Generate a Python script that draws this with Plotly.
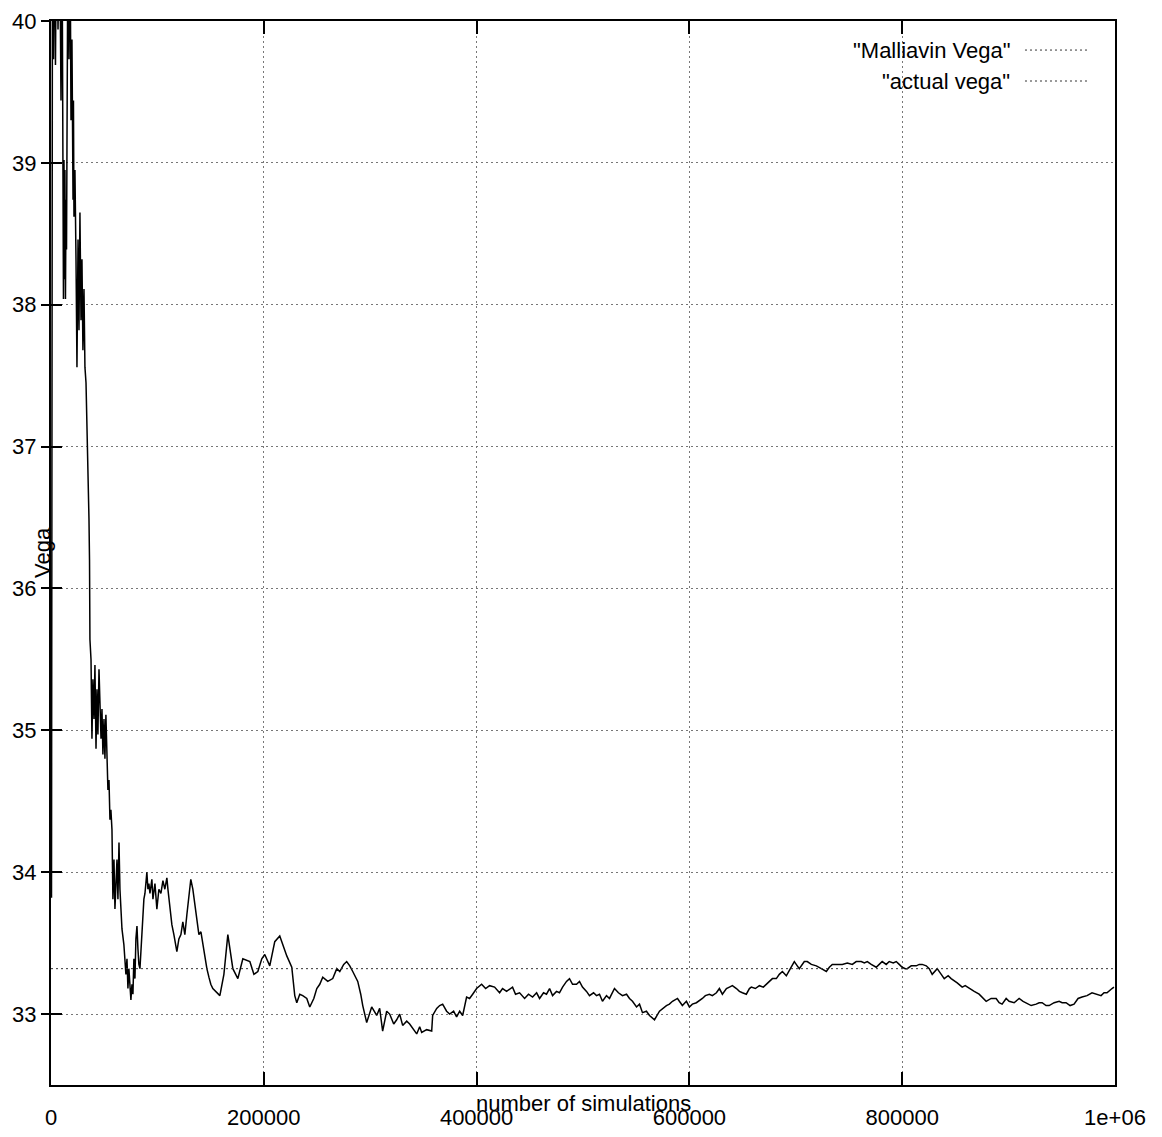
import plotly.graph_objects as go

# Malliavin Vega estimate vs number of simulations
sims = [
    0, 470, 1400, 2350, 3300, 4200, 5200, 6600, 8000, 9400, 10300, 11300, 11700, 12200, 12700,
    13100, 13600, 14100, 14600, 15000, 16000, 16900, 17800, 18800, 19700, 20700, 21100, 21600,
    22500, 23500, 24400, 25400, 26300, 27200, 28200, 29100, 30000, 31000, 31900, 32900, 33800,
    34700, 35700, 36200, 36600, 37600, 38500, 39400, 40400, 41300, 42300, 43200, 44100, 45100,
    46000, 47000, 47900, 48800, 49800, 50700, 51600, 52600, 53500, 54500, 55400, 56300, 57300,
    58200, 59200, 60100, 61000, 62000, 62900, 63900, 64800, 65700, 66700, 68500, 70400, 71400,
    72300, 73200, 74200, 75100, 76100, 77000, 77900, 78900, 79800, 80800, 81700, 82600, 83600,
    84500, 85400, 86400, 87300, 88300, 89200, 90100, 91100, 92000, 93000, 94800, 95800, 97700,
    99500, 101400, 103300, 105200, 107000, 108900, 109900, 111700, 113600, 115500, 117400,
    118300, 120200, 122100, 123900, 125800, 127700, 129600, 131400, 133300, 135200, 137100,
    139000, 140900, 142700, 144600, 146500, 148400, 150200, 152100, 158700, 162500, 166200,
    170900, 175600, 180300, 186900, 190700, 194400, 198100, 200900, 205600, 210300, 215000,
    218800, 221600, 226300, 229100, 231000, 233800, 236600, 240400, 243200, 247000, 249800,
    252600, 255400, 260100, 264800, 268600, 271400, 275100, 277900, 280800, 283600, 288300,
    291100, 293000, 296700, 301400, 306100, 308900, 311700, 315500, 318300, 322100, 324900,
    327700, 330500, 334300, 337100, 340900, 343700, 346500, 348400, 353100, 357800, 358700,
    362500, 365300, 368100, 371800, 374700, 378400, 381200, 384100, 386900, 390600, 393400,
    396300, 400000, 404700, 408500, 412200, 416900, 421600, 424400, 428200, 433800, 436600,
    440400, 445100, 448800, 452600, 456400, 459200, 462900, 465700, 468600, 471400, 475100,
    477900, 480800, 484500, 487300, 490200, 493900, 496700, 499500, 503300, 506100, 509900,
    512700, 515500, 518300, 522100, 524900, 529600, 533300, 537100, 540900, 543700, 546500,
    550300, 553100, 555900, 559600, 562500, 567200, 571900, 574700, 578400, 581200, 584100,
    588800, 593400, 597200, 600000, 602800, 606600, 612200, 615000, 618800, 621600, 625400,
    628200, 631000, 634800, 637600, 640400, 644200, 647000, 649800, 653500, 656400, 658200,
    662000, 665800, 669500, 672300, 675100, 678000, 681700, 684500, 687400, 691100, 694900,
    698600, 701400, 703300, 708000, 710800, 714600, 719300, 724000, 728700, 731500, 734300,
    739000, 743700, 748400, 753100, 756800, 761500, 764400, 767200, 770900, 775600, 778400,
    781200, 785000, 787800, 791600, 794400, 797200, 800000, 802900, 804700, 808500, 813200,
    816000, 818800, 822600, 825400, 828200, 832900, 836700, 839500, 843200, 846000, 851700,
    856400, 859200, 863000, 867700, 872300, 875100, 878900, 883600, 888300, 891100, 893900,
    897700, 900500, 905200, 909900, 913600, 916500, 921200, 925900, 928700, 931500, 935200,
    938100, 942800, 947500, 950300, 954000, 957800, 961500, 965300, 969000, 973700, 978400,
    982200, 986900, 989700, 992500, 997200, 999000,
]
malliavin_vega = [
    36.0, 33.82, 40.8, 39.73, 40.8, 39.69, 40.8, 39.94, 40.8, 39.44, 40.8, 38.88, 38.04, 39.02, 38.18,
    38.95, 38.04, 38.74, 38.39, 39.09, 40.8, 39.73, 40.8, 39.30, 39.87, 38.74, 39.44, 38.62,
    38.95, 38.32, 37.56, 38.46, 37.82, 38.65, 37.89, 38.32, 37.68, 38.11, 37.56, 37.45, 37.19,
    36.84, 36.49, 36.20, 35.64, 35.50, 34.94, 35.36, 35.08, 35.46, 34.87, 35.29, 34.97, 35.43,
    35.22, 34.94, 35.15, 34.83, 35.08, 34.80, 35.11, 34.73, 34.58, 34.65, 34.37, 34.44, 34.30,
    33.81, 34.09, 33.74, 33.95, 34.09, 33.81, 34.21, 33.88, 33.77, 33.60, 33.49, 33.28, 33.39,
    33.18, 33.32, 33.14, 33.10, 33.21, 33.14, 33.39, 33.25, 33.53, 33.62, 33.46, 33.35, 33.32,
    33.46, 33.60, 33.67, 33.81, 33.85, 33.95, 34.00, 33.88, 33.92, 33.85, 33.95, 33.81, 33.92,
    33.74, 33.88, 33.85, 33.94, 33.88, 33.96, 33.88, 33.74, 33.63, 33.56, 33.49,
    33.44, 33.53, 33.56, 33.65, 33.56, 33.70, 33.81, 33.95, 33.88, 33.77, 33.67,
    33.56, 33.58, 33.49, 33.39, 33.32, 33.26, 33.21, 33.18, 33.13, 33.28, 33.56,
    33.32, 33.25, 33.39, 33.37, 33.28, 33.30, 33.39, 33.42, 33.34, 33.51, 33.55,
    33.46, 33.41, 33.33, 33.13, 33.08, 33.14, 33.13, 33.11, 33.05, 33.11, 33.18,
    33.21, 33.26, 33.23, 33.25, 33.32, 33.30, 33.35, 33.37, 33.34, 33.30, 33.23,
    33.14, 33.06, 32.94, 33.05, 32.99, 33.04, 32.88, 33.02, 33.00, 32.93, 32.96,
    33.00, 32.92, 32.95, 32.93, 32.89, 32.86, 32.91, 32.87, 32.89, 32.88, 32.99,
    33.04, 33.06, 33.07, 33.02, 33.00, 33.02, 32.98, 33.02, 32.99, 33.12, 33.11,
    33.14, 33.18, 33.21, 33.18, 33.20, 33.19, 33.15, 33.18, 33.16, 33.19, 33.14,
    33.15, 33.11, 33.14, 33.12, 33.15, 33.11, 33.15, 33.14, 33.18, 33.13, 33.16,
    33.15, 33.19, 33.23, 33.25, 33.21, 33.21, 33.23, 33.19, 33.16, 33.13, 33.15,
    33.13, 33.14, 33.09, 33.13, 33.11, 33.18, 33.15, 33.13, 33.14, 33.11, 33.09,
    33.05, 33.07, 33.01, 33.02, 32.99, 32.96, 33.02, 33.04, 33.06, 33.07, 33.09,
    33.11, 33.06, 33.09, 33.05, 33.07, 33.08, 33.11, 33.13, 33.14, 33.13, 33.15,
    33.18, 33.14, 33.18, 33.19, 33.20, 33.18, 33.16, 33.15, 33.14, 33.18, 33.19,
    33.18, 33.20, 33.19, 33.21, 33.23, 33.25, 33.25, 33.28, 33.30, 33.27, 33.32,
    33.37, 33.34, 33.32, 33.37, 33.37, 33.35, 33.34, 33.32, 33.30, 33.33, 33.35,
    33.35, 33.35, 33.36, 33.35, 33.37, 33.37, 33.36, 33.37, 33.35, 33.33, 33.35,
    33.37, 33.35, 33.37, 33.36, 33.37, 33.35, 33.33, 33.32, 33.32, 33.34, 33.34,
    33.35, 33.35, 33.34, 33.32, 33.28, 33.32, 33.28, 33.25, 33.27, 33.25, 33.22,
    33.19, 33.20, 33.18, 33.16, 33.14, 33.12, 33.09, 33.11, 33.11, 33.08, 33.07,
    33.11, 33.09, 33.08, 33.11, 33.09, 33.08, 33.06, 33.07, 33.08, 33.08, 33.06,
    33.06, 33.08, 33.09, 33.08, 33.08, 33.06, 33.07, 33.11, 33.12, 33.13, 33.15,
    33.14, 33.13, 33.15, 33.15, 33.18, 33.19,
]

actual_x = [0, 1000000]
actual_vega = [33.32, 33.32]

x_tickvals = [0, 200000, 400000, 600000, 800000, 1000000]
x_ticktext = ["0", "200000", "400000", "600000", "800000", "1e+06"]
y_tickvals = [33, 34, 35, 36, 37, 38, 39, 40]
y_ticktext = ["33", "34", "35", "36", "37", "38", "39", "40"]

legend_labels = ['"Malliavin Vega"', '"actual vega"']

FONT = "Liberation Sans Narrow, Arial Narrow, Liberation Sans, Arial, sans-serif"
FS = 22
GRID = "#777777"
DOT = "2px,3px"

fig = go.Figure()
fig.add_trace(go.Scatter(x=sims, y=malliavin_vega, mode="lines",
                         line=dict(color="black", width=1.5), showlegend=False))
fig.add_trace(go.Scatter(x=actual_x, y=actual_vega, mode="lines",
                         line=dict(color="#333333", width=1, dash=DOT), showlegend=False))
# invisible trace to bind secondary y axis (outer tick marks + labels)
fig.add_trace(go.Scatter(x=[None], y=[None], yaxis="y2", showlegend=False, hoverinfo="skip"))

# page body has an 8px default margin, so the figure is sized to fit inside it
fig.update_layout(
    width=1146, height=1121,
    margin=dict(l=43, r=39, t=13, b=44, autoexpand=False),
    paper_bgcolor="white", plot_bgcolor="white",
    font=dict(family=FONT, size=FS, color="black"),
    showlegend=False,
    xaxis=dict(
        range=[0, 1000000], tickvals=x_tickvals, ticktext=x_ticktext,
        ticks="inside", ticklen=13, tickwidth=2, tickcolor="black",
        showline=True, linewidth=2, linecolor="black", mirror="ticks",
        showgrid=True, gridcolor=GRID, gridwidth=1, griddash=DOT,
        zeroline=False, ticklabelstandoff=12, automargin=False,
        tickfont=dict(family=FONT, size=FS, color="black"),
    ),
    yaxis=dict(
        range=[32.5, 40], tickvals=y_tickvals, ticktext=y_ticktext,
        ticks="inside", ticklen=11, tickwidth=2, tickcolor="black",
        showline=True, linewidth=2, linecolor="black", mirror=True,
        showgrid=True, gridcolor=GRID, gridwidth=1, griddash=DOT,
        zeroline=False, showticklabels=False, automargin=False,
    ),
    yaxis2=dict(
        range=[32.5, 40], tickvals=y_tickvals, ticktext=y_ticktext,
        overlaying="y", side="left", anchor="x",
        ticks="outside", ticklen=9, tickwidth=2, tickcolor="black",
        showline=False, showgrid=False, zeroline=False, automargin=False,
        tickfont=dict(family=FONT, size=FS, color="black"),
    ),
)

# axis titles (gnuplot places them overlapping the tick labels)
fig.add_annotation(text="number of simulations", xref="paper", yref="paper",
                   x=0.5, y=0, xanchor="center", yanchor="middle", yshift=-18,
                   showarrow=False, font=dict(family=FONT, size=FS, color="black"))
fig.add_annotation(text="Vega", xref="paper", yref="paper",
                   x=0, y=0.5, xanchor="center", yanchor="middle", xshift=-9,
                   textangle=-90, showarrow=False,
                   font=dict(family=FONT, size=FS, color="black"))

# gnuplot-style key: text right-aligned, line sample on the right
for label, ypos in zip(legend_labels, [0.9727, 0.9436]):
    fig.add_annotation(text=label, xref="paper", yref="paper", x=0.903, y=ypos,
                       xanchor="right", yanchor="middle", showarrow=False,
                       font=dict(family=FONT, size=FS, color="black"))
    fig.add_shape(type="line", xref="paper", yref="paper", x0=0.9154, x1=0.9746,
                  y0=ypos, y1=ypos, line=dict(color="#333333", width=1, dash=DOT))

fig.write_html("out.html")
